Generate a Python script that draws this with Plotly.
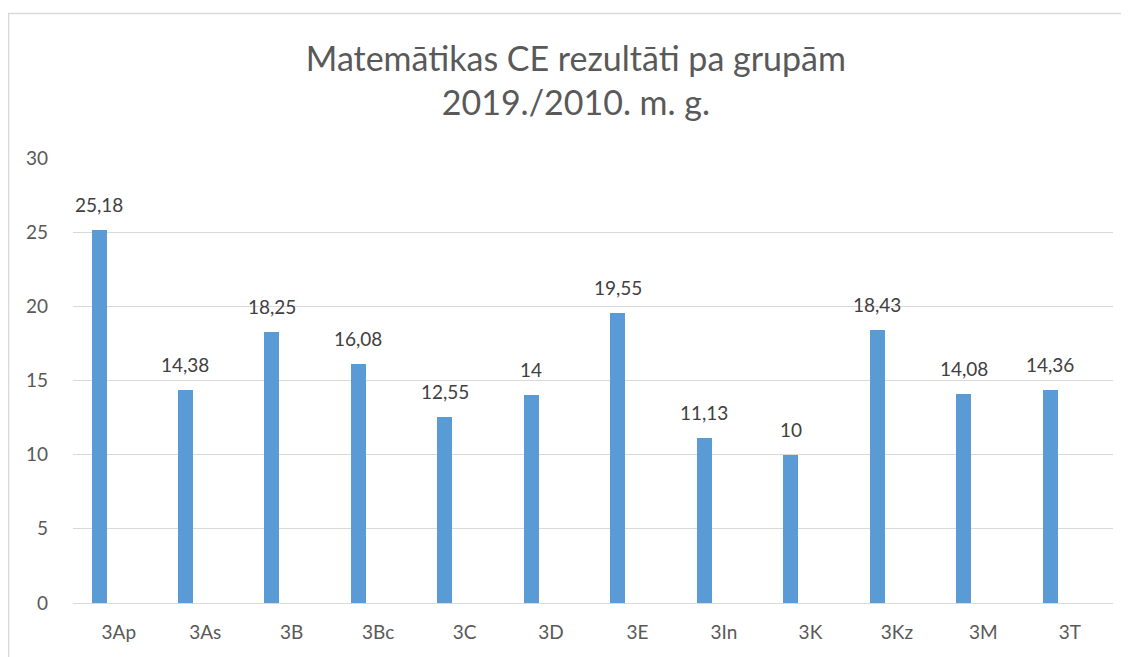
import plotly.graph_objects as go

categories = ["3Ap", "3As", "3B", "3Bc", "3C", "3D", "3E", "3In", "3K", "3Kz", "3M", "3T"]
values = [25.18, 14.38, 18.25, 16.08, 12.55, 14, 19.55, 11.13, 10, 18.43, 14.08, 14.36]
labels = ["25,18", "14,38", "18,25", "16,08", "12,55", "14", "19,55", "11,13", "10", "18,43", "14,08", "14,36"]
y_ticks = [0, 5, 10, 15, 20, 25, 30]

FONT = "Lato, 'Open Sans', sans-serif"

fig = go.Figure()
fig.add_trace(go.Bar(
    x=categories, y=values,
    width=0.173, offset=-0.315,
    marker=dict(color="#5b9bd5", line=dict(width=0)),
    hoverinfo="x+y",
))

for c, v, t in zip(categories, values, labels):
    fig.add_annotation(
        x=c, y=v, text=t, showarrow=False,
        xshift=-19.8, yshift=12, yanchor="bottom",
        font=dict(family=FONT, size=19, color="#404040"),
    )

fig.add_shape(
    type="rect", xref="paper", yref="paper",
    x0=-0.062, y0=-0.3, x1=1.2, y1=1.3247,
    line=dict(color="#d9d9d9", width=1.5), fillcolor="rgba(0,0,0,0)",
    layer="below",
)

fig.update_layout(
    width=1129, height=657,
    margin=dict(l=65, r=24, t=150, b=62),
    paper_bgcolor="white", plot_bgcolor="white",
    showlegend=False,
    bargap=0,
    title=dict(
        text="Matemātikas CE rezultāti pa grupām<br>2019./2010. m. g.",
        x=0.503, xanchor="center", xref="container",
        y=0.904, yanchor="middle",
        font=dict(family=FONT, size=34, color="#595959"),
    ),
    font=dict(family=FONT, size=19, color="#595959"),
)
fig.update_xaxes(
    type="category", showgrid=False, zeroline=False,
    showline=False, ticks="", ticklabelstandoff=16,
    tickfont=dict(family=FONT, size=19, color="#595959"),
)
fig.update_yaxes(
    range=[0, 30], tickvals=y_ticks, showgrid=True,
    gridcolor="#d9d9d9", gridwidth=1, zeroline=True, zerolinecolor="#d9d9d9",
    zerolinewidth=1, showline=False, ticks="", ticklabelstandoff=24,
    tickfont=dict(family=FONT, size=19, color="#595959"),
)

fig.write_html("out.html")
